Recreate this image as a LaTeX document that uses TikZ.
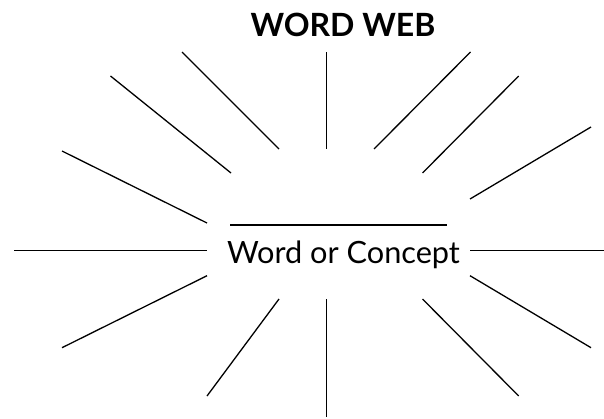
\documentclass[tikz,border=0pt]{standalone}
\usepackage{fontspec}
\setmainfont{Lato}
\begin{document}
\begin{tikzpicture}[x=1pt,y=-1pt,spoke/.style={line width=1.3pt,line cap=butt}]
\useasboundingbox (0,0) rectangle (604,418);
\node[anchor=base,inner sep=0,font=\fontsize{32}{33}\selectfont\bfseries] (title) at (343,36) {WORD WEB};
\node[anchor=base,inner sep=0,font=\fontsize{30.7}{32}\selectfont] (center) at (343.5,263) {Word or Concept};
\draw[spoke] (230,225) -- (447,225);
\draw[spoke] (326.7,52) -- (326.7,149);
\draw[spoke] (182,52) -- (279,149);
\draw[spoke] (110.5,76) -- (231,173);
\draw[spoke] (62,151) -- (207,223);
\draw[spoke] (470.5,52) -- (374,149);
\draw[spoke] (518.7,76) -- (422.5,173);
\draw[spoke] (591,127) -- (470,199);
\draw[spoke] (14,250.7) -- (207,250.7);
\draw[spoke] (470,250.7) -- (604,250.7);
\draw[spoke] (207,275.7) -- (62,347.7);
\draw[spoke] (279,299) -- (207,396);
\draw[spoke] (326.7,299) -- (326.7,417);
\draw[spoke] (422.5,299) -- (518.7,396);
\draw[spoke] (470,275.7) -- (591,347.7);
\end{tikzpicture}
\end{document}
